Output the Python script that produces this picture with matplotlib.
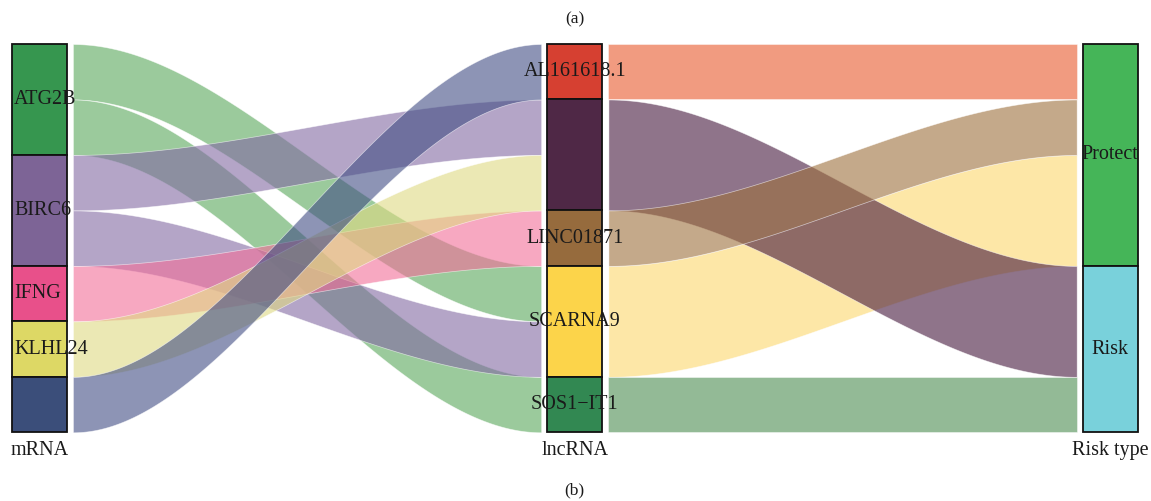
import matplotlib
matplotlib.use("Agg")
import matplotlib.pyplot as plt
import numpy as np

plt.rcParams['font.family'] = ['Liberation Serif', 'DejaVu Serif']

# --- data -------------------------------------------------------------
axis_titles = ["mRNA", "lncRNA", "Risk type"]

mrna_levels = ["ATG2B", "BIRC6", "IFNG", "KLHL24", "mRNA_5"]
mrna_labels = ["ATG2B", "BIRC6", "IFNG", "KLHL24", ""]
lnc_levels = ["AL161618.1", "lncRNA_2", "LINC01871", "SCARNA9", "SOS1-IT1"]
lnc_labels = ["AL161618.1", "", "LINC01871", "SCARNA9", "SOS1\u2212IT1"]
risk_levels = ["Protect", "Risk"]
risk_labels = ["Protect", "Risk"]

# one row per alluvium
row_mrna = ["ATG2B", "ATG2B", "BIRC6", "BIRC6", "IFNG", "KLHL24", "mRNA_5"]
row_lnc = ["SCARNA9", "SOS1-IT1", "lncRNA_2", "SCARNA9", "LINC01871", "lncRNA_2", "AL161618.1"]
row_risk = ["Protect", "Risk", "Risk", "Protect", "Protect", "Risk", "Protect"]
row_freq = [1, 1, 1, 1, 1, 1, 1]

# --- colours ----------------------------------------------------------
mrna_box = ["#36964F", "#7D6496", "#E8508A", "#DDD865", "#3B4E7A"]
mrna_flow = ["#58A75A", "#8269A3", "#F26E99", "#DFDA82", "#414D84"]
lnc_box = ["#D64031", "#4F2846", "#966B3D", "#FCD44A", "#328852"]
lnc_flow = ["#E9582B", "#44173C", "#9E703C", "#FDD76C", "#4B8C50"]
risk_box = ["#45B558", "#79D1DB"]
flow_alpha = 0.6

# --- layout -----------------------------------------------------------
box_w = 0.0513   # half width of a stratum box (axis units)
gap = 0.0115     # gap between box and flow
fs = 14.5

fig = plt.figure(figsize=(11.51, 5.01), dpi=100)
ax = fig.add_axes([0, 0, 1, 1])
ax.set_xlim(-0.0734, 2.0760)
ax.set_ylim(-1.2385, 7.7935)
ax.axis("off")

total = sum(row_freq)
levels = [mrna_levels, lnc_levels, risk_levels]
rows = [row_mrna, row_lnc, row_risk]


def smooth(t):
    return t * t * (3 - 2 * t)


def stack(keys, sizes, order_key):
    order = sorted(range(len(keys)), key=order_key)
    tops = [0.0] * len(keys)
    y = total
    for i in order:
        tops[i] = y
        y -= sizes[i]
    return tops


flow_cols = [mrna_flow, lnc_flow]
for a in range(2):
    src_lv, dst_lv = levels[a], levels[a + 1]
    # aggregate rows into flows between stratum pairs
    pairs = {}
    for s, d, f in zip(rows[a], rows[a + 1], row_freq):
        key = (src_lv.index(s), dst_lv.index(d))
        pairs[key] = pairs.get(key, 0) + f
    keys = list(pairs)
    sizes = [pairs[k] for k in keys]
    top0 = stack(keys, sizes, lambda i: (keys[i][0], keys[i][1]))
    top1 = stack(keys, sizes, lambda i: (keys[i][1], keys[i][0]))
    x0 = a + box_w + gap
    x1 = a + 1 - box_w - gap
    xs = np.linspace(x0, x1, 200)
    s = smooth((xs - x0) / (x1 - x0))
    for i, k in enumerate(keys):
        ytop = top0[i] + (top1[i] - top0[i]) * s
        ybot = ytop - sizes[i]
        ax.fill_between(xs, ybot, ytop, color=flow_cols[a][k[0]], alpha=flow_alpha,
                        edgecolor="white", linewidth=0.5, zorder=1)

# strata boxes
box_cols = [mrna_box, lnc_box, risk_box]
box_labels = [mrna_labels, lnc_labels, risk_labels]
for a in range(3):
    y = total
    for k, lv in enumerate(levels[a]):
        h = sum(f for f, r in zip(row_freq, rows[a]) if r == lv)
        ax.bar(a, h, bottom=y - h, width=2 * box_w, color=box_cols[a][k],
               edgecolor="#111111", linewidth=1.3, zorder=2)
        lab = box_labels[a][k]
        if lab:
            if a == 0:
                ax.text(a - box_w + 0.004, y - h / 2, lab, ha="left", va="center",
                        fontsize=fs, color="#1a1a1a", zorder=3)
            else:
                ax.text(a, y - h / 2, lab, ha="center", va="center",
                        fontsize=fs, color="#1a1a1a", zorder=3)
        y -= h
    ax.text(a, -0.32, axis_titles[a], ha="center", va="center",
            fontsize=fs, color="#1a1a1a")

ax.text(1, 7.45, "(a)", ha="center", va="center", fontsize=12.5, color="#1a1a1a")
ax.text(1, -1.04, "(b)", ha="center", va="center", fontsize=12.5, color="#1a1a1a")

fig.savefig("out.png", dpi=100)
